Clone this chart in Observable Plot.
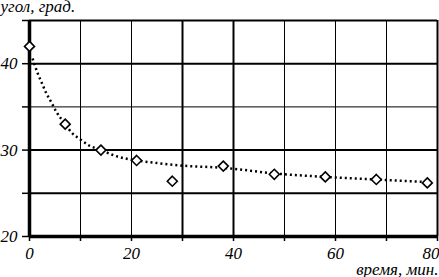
<!DOCTYPE html>
<html>
<head>
<meta charset="utf-8">
<script src="https://cdn.jsdelivr.net/npm/d3@7"></script>
<script src="https://cdn.jsdelivr.net/npm/@observablehq/plot@0.6"></script>
<style>
  html, body { margin: 0; padding: 0; background: #fff; }
  svg { display: block; }
</style>
</head>
<body>
<div id="chart"></div>
<script>
// measured points
const times = [0, 7, 14, 21, 28, 38, 48, 58, 68, 78];
const angles = [42, 33, 30, 28.8, 26.4, 28.15, 27.2, 26.9, 26.6, 26.2];
// fitted (dotted) curve
const fitTimes = [0.6, 1.6, 2.4, 3.2, 4.3, 5.3, 7, 8.3, 9.8, 11.8, 14, 17, 21, 25, 30, 38, 48, 58, 68, 78];
const fitAngles = [40.6, 38.9, 37.8, 36.7, 35.5, 34.4, 33.0, 32.0, 31.3, 30.5, 30.0, 29.3, 28.8, 28.5, 28.2, 27.95, 27.3, 26.9, 26.6, 26.3];
// ticks
const xTicks = [0, 10, 20, 30, 40, 50, 60, 70, 80];
const xLabelTicks = [0, 20, 40, 60];
const xLastLabelTick = [80];
const yTicks = [20, 25, 30, 35, 40, 45];
const yLabelTicks = [20, 30, 40];
const xGridThick = [30, 40, 80];
const xGridThin = [10, 20, 50, 60, 70];
const yGridThick = [25, 30, 40, 45];
const yGridThin = [35];
const xTitle = "время, мин.";
const yTitle = "угол, град.";

const font = "'Liberation Serif', 'DejaVu Serif', serif";

const chart = Plot.plot({
  width: 439,
  height: 277,
  marginLeft: 29,
  marginRight: 2,
  marginTop: 20,
  marginBottom: 41,
  style: { fontFamily: font, fontStyle: "italic", fontSize: "17px", background: "white", overflow: "visible" },
  x: { domain: [0, 80] },
  y: { domain: [20, 45] },
  marks: [
    Plot.gridX(xGridThin, { stroke: "black", strokeOpacity: 1, strokeWidth: 1 }),
    Plot.gridX(xGridThick, { stroke: "black", strokeOpacity: 1, strokeWidth: 2 }),
    Plot.gridY(yGridThin, { stroke: "black", strokeOpacity: 1, strokeWidth: 1 }),
    Plot.gridY(yGridThick, { stroke: "black", strokeOpacity: 1, strokeWidth: 2 }),
    Plot.axisX(xTicks, { tickSize: 5, tickPadding: 5, strokeWidth: 1.5, stroke: "black",
      tickFormat: d => xLabelTicks.includes(d) ? String(d) : "", label: null,
      fontSize: 17, fill: "black" }),
    Plot.axisX(xLastLabelTick, { tickSize: 0, tickPadding: 10, textAnchor: "end", dx: 2,
      tickFormat: d => String(d), label: null, fontSize: 17, fill: "black" }),
    Plot.axisY(yTicks, { tickSize: 7, tickPadding: 5, strokeWidth: 1.5, stroke: "black",
      tickFormat: d => yLabelTicks.includes(d) ? String(d) : "", label: null,
      fontSize: 17, fill: "black" }),
    Plot.ruleX([0], { stroke: "black", strokeWidth: 3.5, y1: 20, y2: 45 }),
    Plot.ruleY([20], { stroke: "black", strokeWidth: 3.5 }),
    Plot.line(fitTimes.map((t, i) => ({ t, a: fitAngles[i] })), {
      x: "t", y: "a", stroke: "black", strokeWidth: 2.5, strokeDasharray: "2 3",
      strokeLinecap: "butt", curve: "monotone-x"
    }),
    Plot.dot(times.map((t, i) => ({ t, a: angles[i] })), {
      x: "t", y: "a", symbol: "diamond2", r: 4.5, stroke: "black", strokeWidth: 1.6, fill: "white"
    }),
    Plot.text([yTitle], { frameAnchor: "top-left", textAnchor: "start", lineAnchor: "bottom",
      dx: -29, dy: -9, fontSize: 17, fill: "black" }),
    Plot.text([xTitle], { frameAnchor: "bottom-right", textAnchor: "end", lineAnchor: "bottom",
      dx: 1, dy: 38, fontSize: 17, fill: "black" })
  ]
});
document.getElementById("chart").appendChild(chart);
</script>
</body>
</html>
